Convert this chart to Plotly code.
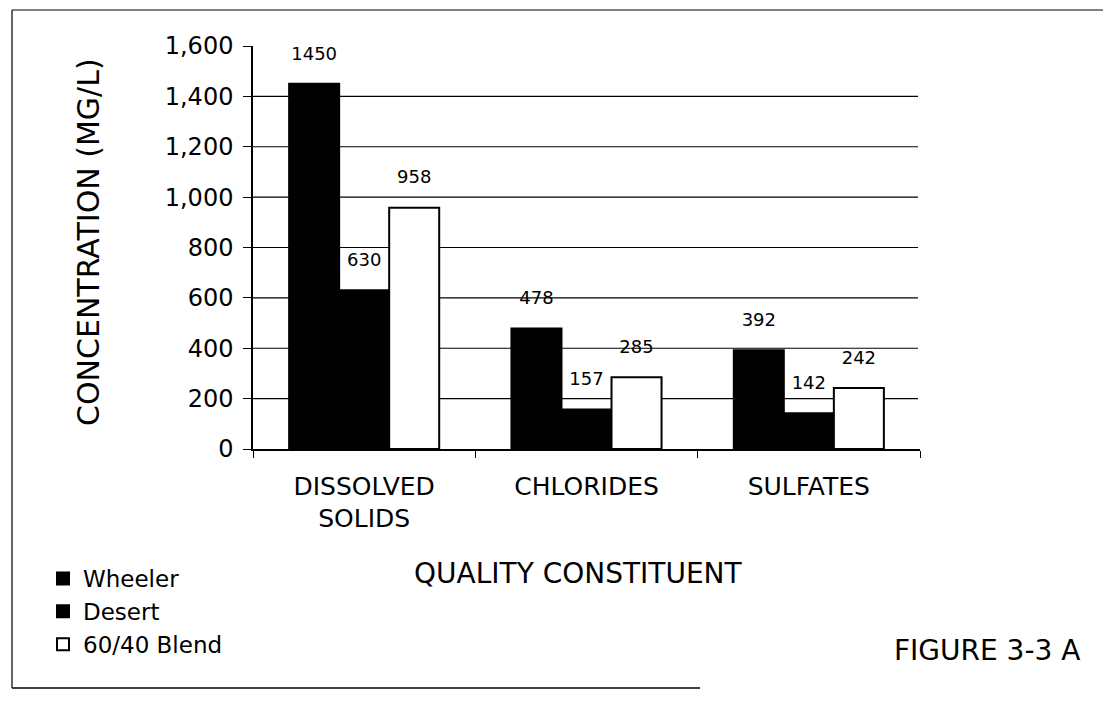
import plotly.graph_objects as go

categories = ["DISSOLVED<br>SOLIDS", "CHLORIDES", "SULFATES"]
series_names = ["Wheeler", "Desert", "60/40 Blend"]
wheeler = [1450, 478, 392]
desert = [630, 157, 142]
blend = [958, 285, 242]
y_ticks = [0, 200, 400, 600, 800, 1000, 1200, 1400, 1600]
grid_vals = [200, 400, 600, 800, 1000, 1200, 1400]

FONT = "DejaVu Sans"
fills = ["black", "black", "white"]

W, H = 1103, 701          # page has an 8px body margin
L, R, T, B = 245, 912, 38, 441
PW, PH = R - L, B - T

def px(x):
    return (x - L) / PW

def py(y):
    return (B - y) / PH

fig = go.Figure()
for name, vals, fill in zip(series_names, [wheeler, desert, blend], fills):
    fig.add_trace(go.Bar(
        name=name, x=categories, y=vals,
        marker=dict(color=fill, line=dict(color="black", width=2)),
        text=[f"<span style='font-size:18px'>{v}</span><br>\u00a0" for v in vals],
        textposition="outside",
        textfont=dict(family=FONT, size=14, color="black"),
        cliponaxis=False,
    ))

grid_shapes = [
    dict(type="line", xref="paper", yref="y", x0=0, x1=px(910), y0=g, y1=g,
         layer="below", line=dict(color="black", width=1.2))
    for g in grid_vals
]
frame_shapes = [
    dict(type="line", xref="paper", yref="paper", x0=px(4), x1=px(1103),
         y0=py(2), y1=py(2), line=dict(color="black", width=1.2)),
    dict(type="line", xref="paper", yref="paper", x0=px(4), x1=px(4),
         y0=py(2), y1=py(680), line=dict(color="black", width=1.2)),
    dict(type="line", xref="paper", yref="paper", x0=px(4), x1=px(692),
         y0=py(680), y1=py(680), line=dict(color="black", width=1.5)),
]

fig.update_layout(
    width=W, height=H,
    paper_bgcolor="white", plot_bgcolor="white",
    margin=dict(l=L, r=W - R, t=T, b=H - B, autoexpand=False),
    barmode="group", bargap=0.325, bargroupgap=0,
    font=dict(family=FONT, color="black"),
    showlegend=True,
    legend=dict(
        xref="container", yref="container",
        x=35 / W, y=1 - 549 / H, xanchor="left", yanchor="top",
        font=dict(family=FONT, size=23, color="black"),
        bgcolor="rgba(0,0,0,0)", borderwidth=0, tracegroupgap=0,
    ),
    xaxis=dict(
        type="category",
        showline=True, linecolor="black", linewidth=1.5,
        ticks="outside", tickson="boundaries", ticklen=7, tickcolor="black", tickwidth=1,
        tickfont=dict(family=FONT, size=25, color="black"),
        ticklabelstandoff=14,
        showgrid=False,
    ),
    yaxis=dict(
        range=[0, 1600], tickvals=y_ticks, tickformat=",",
        showline=True, linecolor="black", linewidth=1.5,
        ticks="outside", ticklen=8, tickcolor="black", tickwidth=1,
        tickfont=dict(family=FONT, size=24, color="black"),
        ticklabelstandoff=5,
        showgrid=False, zeroline=False,
    ),
    annotations=[
        dict(text="CONCENTRATION (MG/L)", xref="paper", yref="paper",
             x=px(80), y=py(234), textangle=-90, xanchor="center", yanchor="middle",
             showarrow=False, font=dict(family=FONT, size=30, color="black")),
        dict(text="QUALITY CONSTITUENT", xref="paper", yref="paper",
             x=px(570), y=py(565), xanchor="center", yanchor="middle",
             showarrow=False, font=dict(family=FONT, size=28, color="black")),
        dict(text="FIGURE 3-3 A", xref="paper", yref="paper",
             x=px(1074), y=py(642), xanchor="right", yanchor="middle",
             showarrow=False, font=dict(family=FONT, size=28, color="black")),
    ],
    shapes=grid_shapes + frame_shapes,
)

fig.write_html("out.html")
